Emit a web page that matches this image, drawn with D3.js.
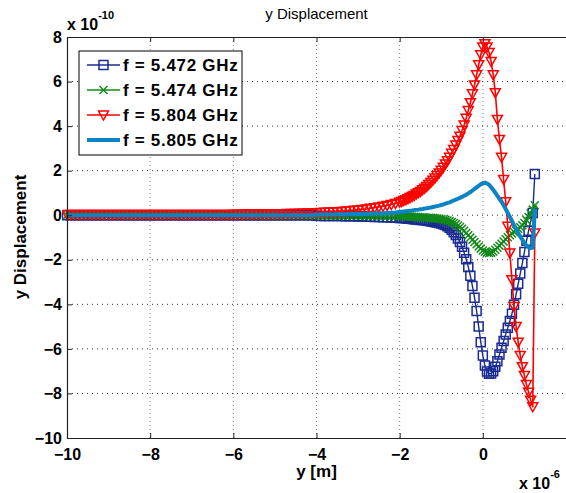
<!DOCTYPE html>
<html>
<head>
<meta charset="utf-8">
<script src="https://cdn.jsdelivr.net/npm/d3@7"></script>
<style>
  html, body { margin: 0; padding: 0; background: #fff; }
  #chart { width: 566px; height: 493px; overflow: hidden; }
  text { font-family: "Liberation Sans", Arial, sans-serif; }
</style>
</head>
<body>
<div id="chart"></div>
<script>
// y position in units of 1e-6 m
const xs = [
  -10, -9.9, -9.8, -9.7, -9.6, -9.5, -9.4, -9.3, -9.2, -9.1,
  -9, -8.9, -8.8, -8.7, -8.6, -8.5, -8.4, -8.3, -8.2, -8.1,
  -8, -7.9, -7.8, -7.7, -7.6, -7.5, -7.4, -7.3, -7.2, -7.1,
  -7, -6.9, -6.8, -6.7, -6.6, -6.5, -6.4, -6.3, -6.2, -6.1,
  -6, -5.9, -5.8, -5.7, -5.6, -5.5, -5.4, -5.3, -5.2, -5.1,
  -5, -4.9, -4.8, -4.7, -4.6, -4.5, -4.4, -4.3, -4.2, -4.1,
  -4, -3.9, -3.8, -3.7, -3.6, -3.5, -3.4, -3.3, -3.2, -3.1,
  -3, -2.9, -2.8, -2.7, -2.6, -2.5, -2.4, -2.3, -2.2, -2.1,
  -2, -1.95, -1.9, -1.85, -1.8, -1.75, -1.7, -1.65, -1.6, -1.55,
  -1.5, -1.45, -1.4, -1.35, -1.3, -1.25, -1.2, -1.15, -1.1, -1.05,
  -1, -0.95, -0.9, -0.85, -0.8, -0.75, -0.7, -0.65, -0.6, -0.55,
  -0.5, -0.45, -0.4, -0.35, -0.3, -0.25, -0.2, -0.15, -0.1, -0.05,
  0, 0.05, 0.1, 0.15, 0.2, 0.25, 0.3, 0.35, 0.4, 0.45,
  0.5, 0.55, 0.6, 0.65, 0.7, 0.75, 0.8, 0.85, 0.9, 0.95,
  1, 1.05, 1.1, 1.15, 1.2, 1.25
];

// y displacement in units of 1e-10
const f5472 = [
  0, 0, 0, 0, 0, 0, 0, 0, 0, 0,
  0, 0, 0, 0, 0, 0, 0, 0, 0, 0,
  0, 0, 0, 0, 0, 0, 0, 0, 0, 0,
  0, 0, 0, 0, 0, 0, 0, 0, 0, 0,
  0, 0, 0, 0, 0, 0, 0, 0, 0, 0,
  0, 0, 0, 0, 0, 0, 0, 0, 0, 0,
  -0.02, -0.03, -0.03, -0.03, -0.04, -0.04, -0.04, -0.05, -0.05, -0.05,
  -0.06, -0.06, -0.07, -0.07, -0.08, -0.08, -0.09, -0.09, -0.1, -0.11,
  -0.12, -0.12, -0.13, -0.14, -0.15, -0.16, -0.17, -0.18, -0.19, -0.2,
  -0.21, -0.22, -0.23, -0.24, -0.26, -0.27, -0.29, -0.31, -0.33, -0.35,
  -0.37, -0.4, -0.44, -0.49, -0.56, -0.65, -0.76, -0.89, -1.04, -1.2,
  -1.42, -1.68, -1.98, -2.32, -2.72, -3.18, -3.7, -4.3, -5.0, -5.7,
  -6.3, -6.75, -7.02, -7.12, -7.1, -7.0, -6.8, -6.55, -6.25, -5.95,
  -5.65, -5.35, -5.05, -4.75, -4.42, -4.02, -3.55, -3.08, -2.62, -2.15,
  -1.65, -1.15, -0.7, -0.3, 0.1, 1.85
];

const f5474 = [
  0, 0, 0, 0, 0, 0, 0, 0, 0, 0,
  0, 0, 0, 0, 0, 0, 0, 0, 0, 0,
  0, 0, 0, 0, 0, 0, 0, 0, 0, 0,
  0, 0, 0, 0, 0, 0, 0, 0, 0, 0,
  0, 0, 0, 0, 0, 0, 0, 0, 0, 0,
  0, 0, 0, 0, 0, 0, 0, 0, 0, 0,
  -0.01, -0.01, -0.01, -0.01, -0.02, -0.02, -0.02, -0.02, -0.02, -0.02,
  -0.03, -0.03, -0.03, -0.03, -0.03, -0.04, -0.04, -0.04, -0.04, -0.05,
  -0.05, -0.05, -0.05, -0.06, -0.06, -0.06, -0.07, -0.07, -0.08, -0.08,
  -0.09, -0.09, -0.1, -0.11, -0.11, -0.12, -0.13, -0.14, -0.15, -0.16,
  -0.17, -0.19, -0.21, -0.24, -0.27, -0.31, -0.35, -0.4, -0.46, -0.53,
  -0.61, -0.7, -0.8, -0.9, -1.0, -1.1, -1.2, -1.3, -1.4, -1.5,
  -1.58, -1.64, -1.68, -1.7, -1.68, -1.63, -1.55, -1.46, -1.37, -1.28,
  -1.18, -1.08, -0.99, -0.9, -0.82, -0.75, -0.68, -0.61, -0.54, -0.45,
  -0.35, -0.22, -0.08, 0.08, 0.25, 0.45
];

const f5804 = [
  0.03, 0.03, 0.03, 0.03, 0.03, 0.03, 0.03, 0.03, 0.03, 0.03,
  0.03, 0.03, 0.03, 0.03, 0.03, 0.03, 0.03, 0.03, 0.03, 0.03,
  0.03, 0.03, 0.03, 0.03, 0.03, 0.03, 0.03, 0.03, 0.03, 0.03,
  0.03, 0.03, 0.03, 0.03, 0.03, 0.03, 0.03, 0.03, 0.03, 0.03,
  0.04, 0.04, 0.04, 0.05, 0.05, 0.05, 0.05, 0.06, 0.06, 0.06,
  0.07, 0.07, 0.07, 0.08, 0.08, 0.08, 0.09, 0.09, 0.1, 0.1,
  0.11, 0.12, 0.13, 0.14, 0.15, 0.16, 0.17, 0.19, 0.2, 0.22,
  0.24, 0.26, 0.28, 0.31, 0.34, 0.37, 0.4, 0.44, 0.48, 0.53,
  0.58, 0.62, 0.66, 0.7, 0.74, 0.79, 0.84, 0.89, 0.95, 1.01,
  1.07, 1.14, 1.21, 1.29, 1.38, 1.47, 1.57, 1.67, 1.78, 1.9,
  2.02, 2.15, 2.3, 2.44, 2.6, 2.78, 2.95, 3.15, 3.35, 3.55,
  3.8, 4.05, 4.35, 4.7, 5.05, 5.45, 5.85, 6.3, 6.75, 7.2,
  7.55, 7.7, 7.55, 7.3, 6.9, 6.3, 5.5, 4.3, 3.4, 2.6,
  1.6, 0.6, -0.5, -1.7, -2.9, -4.1, -5.0, -5.7, -6.3, -6.8,
  -7.2, -7.6, -7.95, -8.3, -8.6, -0.8
];

const f5805 = [
  0, 0, 0, 0, 0, 0, 0, 0, 0, 0,
  0, 0, 0, 0, 0, 0, 0, 0, 0, 0,
  0, 0, 0, 0, 0, 0, 0, 0, 0, 0,
  0, 0, 0, 0, 0, 0, 0, 0, 0, 0,
  0, 0, 0, 0, 0, 0, 0, 0, 0, 0,
  0, 0, 0, 0, 0, 0, 0, 0, 0, 0,
  0.02, 0.03, 0.03, 0.03, 0.03, 0.04, 0.04, 0.04, 0.05, 0.05,
  0.05, 0.06, 0.06, 0.07, 0.08, 0.08, 0.09, 0.1, 0.11, 0.12,
  0.15, 0.16, 0.17, 0.18, 0.19, 0.2, 0.21, 0.23, 0.24, 0.25,
  0.27, 0.28, 0.3, 0.31, 0.33, 0.35, 0.37, 0.39, 0.41, 0.43,
  0.46, 0.49, 0.52, 0.55, 0.58, 0.62, 0.66, 0.7, 0.74, 0.78,
  0.82, 0.87, 0.92, 0.98, 1.04, 1.11, 1.18, 1.25, 1.32, 1.39,
  1.44, 1.46, 1.43, 1.36, 1.26, 1.14, 1.01, 0.87, 0.73, 0.6,
  0.45, 0.28, 0.1, -0.08, -0.26, -0.45, -0.62, -0.8, -0.96, -1.1,
  -1.24, -1.36, -1.44, -1.48, -1.45, 0.3
];

const seriesNames = ["f = 5.472 GHz", "f = 5.474 GHz", "f = 5.804 GHz", "f = 5.805 GHz"];
const xTicks = [-10, -8, -6, -4, -2, 0, 2];
const yTicks = [-10, -8, -6, -4, -2, 0, 2, 4, 6, 8];

const width = 566, height = 493;
const margin = { left: 67, right: 566, top: 37, bottom: 438 };

const series = [
  { name: seriesNames[0], values: f5472, color: "#1a2b92", width: 1.4, marker: "square" },
  { name: seriesNames[1], values: f5474, color: "#12891a", width: 1.4, marker: "cross" },
  { name: seriesNames[2], values: f5804, color: "#ff0000", width: 1.6, marker: "tri" },
  { name: seriesNames[3], values: f5805, color: "#0b84c6", width: 4, marker: null }
];

const svg = d3.select("#chart").append("svg")
  .attr("width", width)
  .attr("height", height);

const x = d3.scaleLinear().domain([-10, 2]).range([margin.left, margin.right]);
const y = d3.scaleLinear().domain([-10, 8]).range([margin.bottom, margin.top]);

// grid
svg.append("g").selectAll("line")
  .data(xTicks.filter(d => d > -10 && d < 2))
  .enter().append("line")
  .attr("x1", d => x(d)).attr("x2", d => x(d))
  .attr("y1", margin.top).attr("y2", margin.bottom)
  .attr("stroke", "#8a8a8a")
  .attr("stroke-width", 1)
  .attr("stroke-dasharray", "1,3");

svg.append("g").selectAll("line")
  .data(yTicks.filter(d => d > -10 && d < 8))
  .enter().append("line")
  .attr("x1", margin.left).attr("x2", margin.right)
  .attr("y1", d => y(d)).attr("y2", d => y(d))
  .attr("stroke", "#333")
  .attr("stroke-width", 1)
  .attr("stroke-dasharray", "1,4");

// data
svg.append("clipPath").attr("id", "plotclip")
  .append("rect")
  .attr("x", margin.left - 5).attr("y", margin.top - 6)
  .attr("width", margin.right - margin.left + 10).attr("height", margin.bottom - margin.top + 12);

const plot = svg.append("g").attr("clip-path", "url(#plotclip)");

const line = d3.line()
  .x((d, i) => x(xs[i]))
  .y(d => y(d));

function markerPath(type) {
  if (type === "square") return "M-4.5,-4.5H4.5V4.5H-4.5Z";
  if (type === "cross") return "M-4,-4L4,4M-4,4L4,-4";
  if (type === "tri") return "M-5,-4H5L0,5Z";
  return "";
}

series.forEach(s => {
  plot.append("path")
    .datum(s.values)
    .attr("fill", "none")
    .attr("stroke", s.color)
    .attr("stroke-width", s.width)
    .attr("stroke-linejoin", "round")
    .attr("d", line);

  if (s.marker) {
    plot.append("g").selectAll("path")
      .data(s.values)
      .enter().append("path")
      .attr("transform", (d, i) => `translate(${x(xs[i])},${y(d)})`)
      .attr("d", markerPath(s.marker))
      .attr("fill", "none")
      .attr("stroke", s.color)
      .attr("stroke-width", 1.5);
  }
});

// axes
const xAxis = svg.append("g")
  .attr("transform", `translate(0,${margin.bottom})`)
  .call(d3.axisBottom(x).tickValues(xTicks.filter(d => d < 2)).tickSizeInner(-5).tickSizeOuter(0).tickPadding(11));

const xTop = svg.append("g")
  .attr("transform", `translate(0,${margin.top})`)
  .call(d3.axisTop(x).tickValues(xTicks).tickSizeInner(-5).tickSizeOuter(0).tickFormat(""));

const yAxis = svg.append("g")
  .attr("transform", `translate(${margin.left},0)`)
  .call(d3.axisLeft(y).tickValues(yTicks).tickSizeInner(-5).tickSizeOuter(0).tickPadding(5));

[xAxis, xTop, yAxis].forEach(a => {
  a.select(".domain").attr("stroke", "#222").attr("stroke-width", 1.2);
  a.selectAll(".tick line").attr("stroke", "#222");
  a.selectAll(".tick text")
    .attr("fill", "#000")
    .style("font-size", "16px")
    .style("font-weight", "bold");
});

// titles
svg.append("text")
  .attr("x", (margin.left + margin.right) / 2)
  .attr("y", 19)
  .attr("text-anchor", "middle")
  .style("font-size", "15px")
  .text("y Displacement");

svg.append("text")
  .attr("x", (margin.left + margin.right) / 2)
  .attr("y", 477)
  .attr("text-anchor", "middle")
  .style("font-size", "17px")
  .style("font-weight", "bold")
  .text("y [m]");

svg.append("text")
  .attr("transform", "rotate(-90)")
  .attr("x", -237)
  .attr("y", 26)
  .attr("text-anchor", "middle")
  .style("font-size", "17px")
  .style("font-weight", "bold")
  .text("y Displacement");

// exponent labels
const expTop = svg.append("text")
  .attr("x", 67)
  .attr("y", 30)
  .style("font-size", "16px")
  .style("font-weight", "bold");
expTop.append("tspan").text("x 10");
expTop.append("tspan").attr("dy", -11).style("font-size", "11px").text("-10");

const expBottom = svg.append("text")
  .attr("x", 519)
  .attr("y", 489)
  .style("font-size", "16px")
  .style("font-weight", "bold");
expBottom.append("tspan").text("x 10");
expBottom.append("tspan").attr("dy", -11).style("font-size", "11px").text("-6");

// legend
const legend = svg.append("g");
legend.append("rect")
  .attr("x", 79).attr("y", 51)
  .attr("width", 163).attr("height", 104)
  .attr("fill", "#fff")
  .attr("stroke", "#000")
  .attr("stroke-width", 1);

series.forEach((s, i) => {
  const ry = 65 + i * 25;
  legend.append("line")
    .attr("x1", 87).attr("x2", 120)
    .attr("y1", ry).attr("y2", ry)
    .attr("stroke", s.color)
    .attr("stroke-width", s.width);
  if (s.marker) {
    legend.append("path")
      .attr("transform", `translate(103.5,${ry})`)
      .attr("d", markerPath(s.marker))
      .attr("fill", "none")
      .attr("stroke", s.color)
      .attr("stroke-width", 1.5);
  }
  legend.append("text")
    .attr("x", 123)
    .attr("y", ry + 6)
    .style("font-size", "17px")
    .style("font-weight", "bold")
    .style("letter-spacing", "0.7px")
    .text(s.name);
});
</script>
</body>
</html>
